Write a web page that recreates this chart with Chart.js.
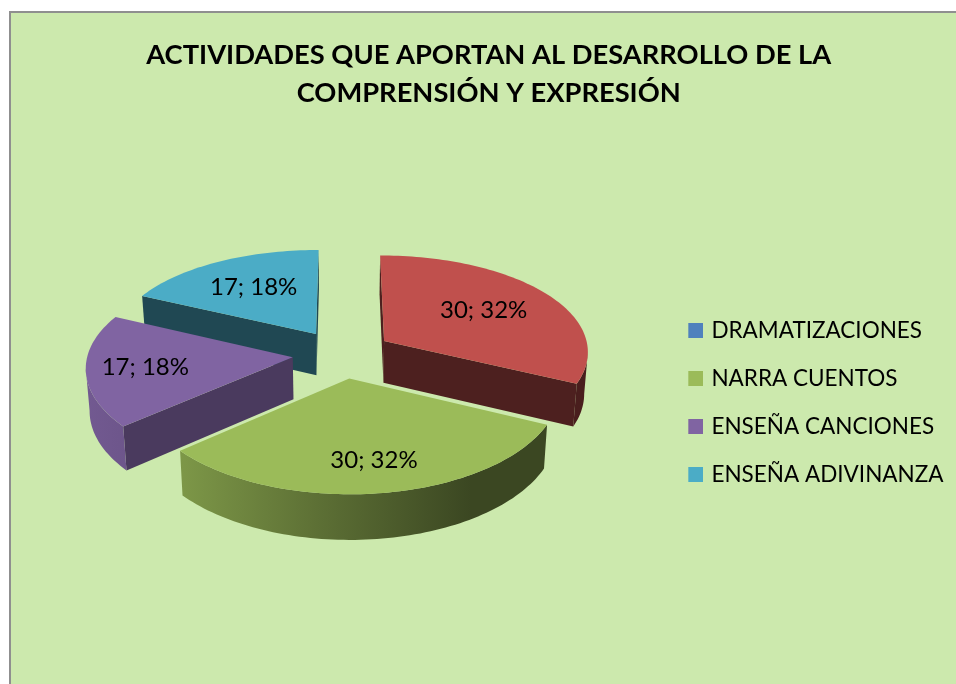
<!DOCTYPE html>
<html lang="es">
<head>
<meta charset="utf-8">
<title>Actividades</title>
<script src="https://cdn.jsdelivr.net/npm/chart.js@4/dist/chart.umd.min.js"></script>
<style>
html,body{margin:0;padding:0;background:#fff;overflow:hidden}
#frame{position:absolute;left:9px;top:11px;width:960px;height:700px;box-sizing:border-box;background:#CCE9AD;border:2px solid #8f8f8f}
#c{position:absolute;left:0;top:0}
</style>
</head>
<body>
<div id="frame"></div>
<canvas id="c" width="956" height="684"></canvas>
<script>
const titleLines = ['ACTIVIDADES QUE APORTAN AL DESARROLLO DE LA', 'COMPRENSIÓN Y EXPRESIÓN'];
const categories = ['DRAMATIZACIONES', '', 'NARRA CUENTOS', 'ENSEÑA CANCIONES', 'ENSEÑA ADIVINANZA'];
const values = [0, 30, 30, 17, 17];
const colors = ['#4F81BD', '#C0504D', '#9BBB59', '#8064A2', '#4BACC6'];
const cutShade = [0.4, 0.4, 0.4, 0.58, 0.42];
const labelPlace = [[0, 0], [0, 0.61], [-0.9, 0.73], [0, 0.715], [0, 0.62]];

const view = {tilt: 0.485, kX: 0.094, kY: 0.11, kD: 0.07, depth: 42, shrink: 0.015, shiftX: -1, shiftY: -49};

function shade(hex, f) {
  const n = parseInt(hex.slice(1), 16);
  return 'rgb(' + [(n >> 16) & 255, (n >> 8) & 255, n & 255].map(c => Math.round(c * f)).join(',') + ')';
}
function project(arc, angle, rf, h) {
  const R = arc.outerRadius, w = arc.options.offset;
  const mid = (arc.startAngle + arc.endAngle) / 2;
  const u = w * Math.cos(mid) + rf * R * Math.cos(angle);
  const v = w * Math.sin(mid) + rf * R * Math.sin(angle);
  const sx = 1 + view.kX * v / R, sy = 1 + view.kY * v / R;
  return {
    x: arc.x + view.shiftX + u * sx * (1 - h * view.shrink),
    y: arc.y + view.shiftY + v * view.tilt * sy + h * view.depth * (1 + view.kD * v / R)
  };
}
function rimAngles(arc) {
  const n = Math.max(8, Math.ceil((arc.endAngle - arc.startAngle) * 40));
  const out = [];
  for (let i = 0; i <= n; i++) out.push(arc.startAngle + (arc.endAngle - arc.startAngle) * i / n);
  return out;
}
function fillPoly(ctx, pts, style) {
  ctx.beginPath();
  pts.forEach((p, i) => i ? ctx.lineTo(p.x, p.y) : ctx.moveTo(p.x, p.y));
  ctx.closePath();
  ctx.fillStyle = style;
  ctx.fill();
}
function drawCut(ctx, arc, angle, reverse, style) {
  const a0 = project(arc, angle, 0, 0), a1 = project(arc, angle, 1, 0);
  const from = reverse ? a1 : a0, to = reverse ? a0 : a1;
  if (to.x - from.x >= 0) return;
  fillPoly(ctx, [a0, a1, project(arc, angle, 1, 1), project(arc, angle, 0, 1)], style);
}
function swatch(color) {
  const c = document.createElement('canvas');
  c.width = 18;
  c.height = 15;
  const g = c.getContext('2d');
  g.fillStyle = color;
  g.fillRect(3, 0, 15, 15);
  return c;
}
const pie3d = {
  id: 'pie3d',
  beforeDatasetsDraw(chart) {
    const ctx = chart.ctx;
    const arcs = chart.getDatasetMeta(0).data
      .map((arc, i) => ({arc, i}))
      .filter(o => values[o.i] > 0)
      .sort((a, b) => {
        const d = o => Math.sin((o.arc.startAngle + o.arc.endAngle) / 2);
        return d(a) - d(b);
      });
    arcs.forEach(({arc, i}) => {
      const col = arc.options.backgroundColor;
      const R = arc.outerRadius, left = arc.x - R - 60;
      const grad = ctx.createLinearGradient(left, 0, left + 2 * R + 120, 0);
      [[0, .9], [.2, .8], [.45, .6], [.74, .38], [1, .38]].forEach(s => grad.addColorStop(s[0], shade(col, s[1])));
      const rim = rimAngles(arc);
      drawCut(ctx, arc, arc.startAngle, false, shade(col, cutShade[i]));
      drawCut(ctx, arc, arc.endAngle, true, shade(col, cutShade[i]));
      let run = [];
      const flush = () => {
        if (run.length > 1) {
          const top = run.map(a => project(arc, a, 1, 0));
          const bottom = run.map(a => project(arc, a, 1, 1)).reverse();
          fillPoly(ctx, top.concat(bottom), grad);
        }
        run = [];
      };
      for (let k = 0; k < rim.length - 1; k++) {
        const t0 = project(arc, rim[k], 1, 0), t1 = project(arc, rim[k + 1], 1, 0);
        if (t1.x - t0.x < 0) {
          if (!run.length) run.push(rim[k]);
          run.push(rim[k + 1]);
        } else {
          flush();
        }
      }
      flush();
      const face = [project(arc, arc.startAngle, 0, 0)].concat(rim.map(a => project(arc, a, 1, 0)));
      fillPoly(ctx, face, col);
    });
    const total = values.reduce((a, b) => a + b, 0);
    ctx.fillStyle = '#000';
    ctx.font = '24px Lato';
    ctx.textAlign = 'center';
    ctx.textBaseline = 'middle';
    arcs.forEach(({arc, i}) => {
      const mid = (arc.startAngle + arc.endAngle) / 2 + labelPlace[i][0] * Math.PI / 180;
      const p = project(arc, mid, labelPlace[i][1], 0);
      ctx.fillText(values[i] + '; ' + Math.round(values[i] / total * 100) + '%', p.x, p.y);
    });
    return false;
  }
};
new Chart(document.getElementById('c'), {
  type: 'pie',
  data: {
    labels: categories,
    datasets: [{data: values, backgroundColor: colors, borderWidth: 0, offset: 50, radius: 205}]
  },
  plugins: [pie3d],
  options: {
    responsive: false,
    animation: false,
    events: [],
    layout: {padding: {left: 24, top: 0, right: 2.5, bottom: 0}},
    plugins: {
      tooltip: {enabled: false},
      title: {
        display: true,
        text: titleLines,
        color: '#000',
        font: {family: 'Lato', size: 27.3, weight: 'bold', lineHeight: 1.39},
        padding: {top: 36, bottom: 10}
      },
      legend: {
        position: 'right',
        fullSize: false,
        labels: {
          font: {family: 'Lato', size: 22.5},
          color: '#000',
          usePointStyle: true,
          pointStyleWidth: 11.75,
          boxHeight: 15,
          padding: 25.5,
          generateLabels(chart) {
            return Chart.overrides.pie.plugins.legend.labels.generateLabels(chart).map((item, i) => {
              item.pointStyle = swatch(colors[i]);
              return item;
            });
          },
          filter: item => item.text !== ''
        }
      }
    }
  }
});
</script>
</body>
</html>
